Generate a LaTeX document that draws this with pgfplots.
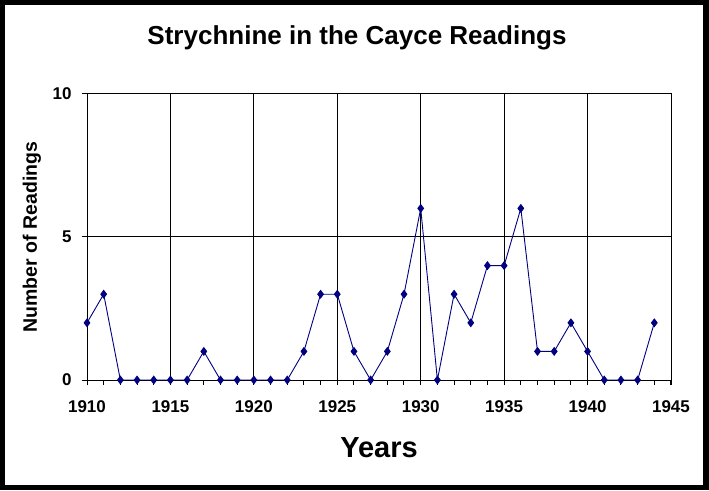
\documentclass[border=0pt]{standalone}
\usepackage{fontspec}
\setmainfont{Liberation Sans}
\usepackage{pgfplots}
\pgfplotsset{compat=1.18}
\definecolor{navy}{RGB}{0,0,128}

\begin{document}
\begin{tikzpicture}[x=1pt,y=1pt]
  % outer frame of the chart
  \fill[black] (-87,-110) rectangle (622,380);
  \fill[white] (-82,-105) rectangle (616,375);
  \begin{axis}[
      scale only axis,
      width=584pt, height=286pt,
      xmin=1910, xmax=1945,
      ymin=0, ymax=10,
      xtick={1910,1915,...,1945},
      minor xtick={1910,...,1945},
      ytick={0,5,10},
      grid=major,
      major grid style={black, line width=1pt},
      axis line style={black, line width=1pt},
      tick style={black, line width=1pt},
      tick align=outside,
      major tick length=5pt,
      minor tick length=5pt,
      xtick pos=bottom, ytick pos=left,
      /pgf/number format/assume math mode=true,
      /pgf/number format/1000 sep={},
      ticklabel style={font=\bfseries\fontsize{17}{17}\selectfont},
      xticklabel style={yshift=-12pt},
      yticklabel style={xshift=-7pt},
      clip=false,
    ]
    \addplot[navy, line width=0.9pt, mark=diamond*, mark size=3.8pt,
             mark options={fill=navy, draw=navy}]
      table {
        x y
        1910 2
        1911 3
        1912 0
        1913 0
        1914 0
        1915 0
        1916 0
        1917 1
        1918 0
        1919 0
        1920 0
        1921 0
        1922 0
        1923 1
        1924 3
        1925 3
        1926 1
        1927 0
        1928 1
        1929 3
        1930 6
        1931 0
        1932 3
        1933 2
        1934 4
        1935 4
        1936 6
        1937 1
        1938 1
        1939 2
        1940 1
        1941 0
        1942 0
        1943 0
        1944 2
      };
  \end{axis}
  \node[font=\bfseries\fontsize{26}{26}\selectfont] at (270,342) {Strychnine in the Cayce Readings};
  \node[font=\bfseries\fontsize{29}{29}\selectfont] at (292,-68) {Years};
  \node[font=\bfseries\fontsize{19.5}{19.5}\selectfont, rotate=90] at (-55,143) {Number of Readings};
\end{tikzpicture}
\end{document}
